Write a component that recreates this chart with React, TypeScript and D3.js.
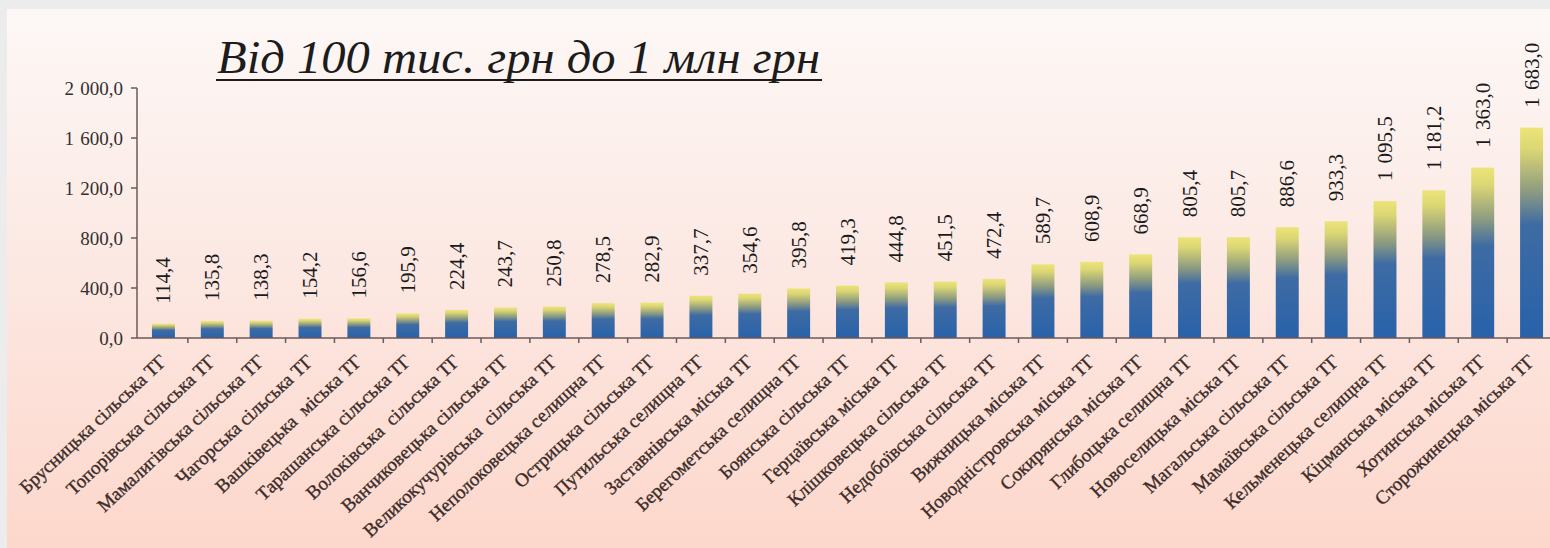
import React from 'react';
import * as d3 from 'd3';

const categories = [
  'Брусницька сільська ТГ',
  'Топорівська сільська ТГ',
  'Мамалигівська сільська ТГ',
  'Чагорська сільська ТГ',
  'Вашківецька  міська ТГ',
  'Тарашанська сільська ТГ',
  'Волоківська  сільська ТГ',
  'Ванчиковецька сільська ТГ',
  'Великокучурівська  сільська ТГ',
  'Неполоковецька селищна ТГ',
  'Острицька сільська ТГ',
  'Путильська селищна ТГ',
  'Заставнівська міська ТГ',
  'Берегометська селищна ТГ',
  'Боянська сільська ТГ',
  'Герцаївська міська ТГ',
  'Клішковецька сільська ТГ',
  'Недобоївська сільська ТГ',
  'Вижницька міська ТГ',
  'Новодністровська міська ТГ',
  'Сокирянська міська ТГ',
  'Глибоцька селищна ТГ',
  'Новоселицька міська ТГ',
  'Магальська сільська ТГ',
  'Мамаївська сільська ТГ',
  'Кельменецька селищна ТГ',
  'Кіцманська міська ТГ',
  'Хотинська міська ТГ',
  'Сторожинецька міська ТГ',
];

const values = [
  114.4, 135.8, 138.3, 154.2, 156.6, 195.9, 224.4, 243.7, 250.8, 278.5,
  282.9, 337.7, 354.6, 395.8, 419.3, 444.8, 451.5, 472.4, 589.7, 608.9,
  668.9, 805.4, 805.7, 886.6, 933.3, 1095.5, 1181.2, 1363.0, 1683.0,
];

const yTicks = [0, 400, 800, 1200, 1600, 2000];
const title = 'Від 100 тис. грн до 1 млн грн';

const W = 1550;
const H = 548;
const FONT = "'Liberation Serif', Tinos, 'DejaVu Serif', serif";

const locale = d3.formatLocale({
  decimal: ',',
  thousands: '\u2004',
  grouping: [3],
  currency: ['', ''],
});
const fmt = locale.format(',.1f');

export default function App() {
  const x = d3
    .scaleBand<string>()
    .domain(categories)
    .range([139, 1556])
    .paddingInner(0.53)
    .paddingOuter(0.265);
  const y = d3.scaleLinear().domain([0, 2000]).range([338, 88]);
  const step = x.step();
  const x0 = 139;

  return (
    <div style={{ position: 'fixed', left: 0, top: 0, width: W, height: H }}>
      <svg width={W} height={H} style={{ display: 'block', fontFamily: FONT }}>
        <defs>
          <linearGradient id="bg" x1="0" y1="0" x2="0" y2="1">
            <stop offset="0" stopColor="#fdf8f6" />
            <stop offset="0.45" stopColor="#fce9e4" />
            <stop offset="1" stopColor="#fdd7cb" />
          </linearGradient>
          <linearGradient id="bar" x1="0" y1="0" x2="0" y2="1">
            <stop offset="0" stopColor="#ece47a" />
            <stop offset="0.1" stopColor="#dcd774" />
            <stop offset="0.3" stopColor="#8e9c80" />
            <stop offset="0.46" stopColor="#3e6ba4" />
            <stop offset="1" stopColor="#2862aa" />
          </linearGradient>
        </defs>
        <rect x={0} y={0} width={W} height={H} fill="#ececec" />
        <rect x={7} y={9} width={W - 7} height={H - 9} fill="url(#bg)" />

        {/* title */}
        <text
          x={217}
          y={73}
          style={{ fontFamily: FONT, fontStyle: 'italic', fontSize: 47 }}
          fill="#1c1c1c"
          textLength={603}
          lengthAdjust="spacingAndGlyphs"
        >
          {title}
        </text>
        <line x1={216} x2={822} y1={80} y2={80} stroke="#1c1c1c" strokeWidth={2} />

        {/* bars */}
        {categories.map((c, i) => (
          <rect
            key={c}
            x={x(c)!}
            y={y(values[i])}
            width={x.bandwidth()}
            height={y(0) - y(values[i])}
            fill="url(#bar)"
          />
        ))}

        {/* y axis */}
        <line x1={137} x2={137} y1={y(0)} y2={y(2000)} stroke="#6b5a58" strokeWidth={1.5} />
        {yTicks.map((t) => (
          <g key={t}>
            <line x1={131} x2={137} y1={y(t)} y2={y(t)} stroke="#6b5a58" strokeWidth={1.5} />
            <text
              x={123}
              y={y(t)}
              textAnchor="end"
              dominantBaseline="central"
              style={{ fontFamily: FONT, fontSize: 19 }}
              fill="#333030"
            >
              {fmt(t)}
            </text>
          </g>
        ))}

        {/* x axis */}
        <line x1={137} x2={W} y1={y(0)} y2={y(0)} stroke="#6b5a58" strokeWidth={1.5} />
        {categories.map((c, i) =>
          i === 0 ? null : (
            <line
              key={'t' + c}
              x1={x0 + i * step}
              x2={x0 + i * step}
              y1={y(0)}
              y2={y(0) + 5}
              stroke="#6b5a58"
              strokeWidth={1.5}
            />
          )
        )}

        {/* value labels */}
        {categories.map((c, i) => {
          const cx = x(c)! + x.bandwidth() / 2;
          const ty = y(values[i]) - 20;
          return (
            <text
              key={'v' + c}
              transform={`translate(${cx},${ty}) rotate(-90)`}
              textAnchor="start"
              dominantBaseline="central"
              style={{ fontFamily: FONT, fontSize: 21 }}
              fill="#1a1a1a"
            >
              {fmt(values[i])}
            </text>
          );
        })}

        {/* category labels */}
        {categories.map((c) => {
          const cx = x(c)! + x.bandwidth() / 2;
          return (
            <text
              key={'c' + c}
              transform={`translate(${cx},${358}) rotate(-43)`}
              textAnchor="end"
              dominantBaseline="central"
              style={{ fontFamily: FONT, fontSize: 19, whiteSpace: 'pre' }}
              fill="#3a2c29"
              stroke="#3a2c29"
              strokeWidth={0.35}
            >
              {c}
            </text>
          );
        })}
      </svg>
    </div>
  );
}
